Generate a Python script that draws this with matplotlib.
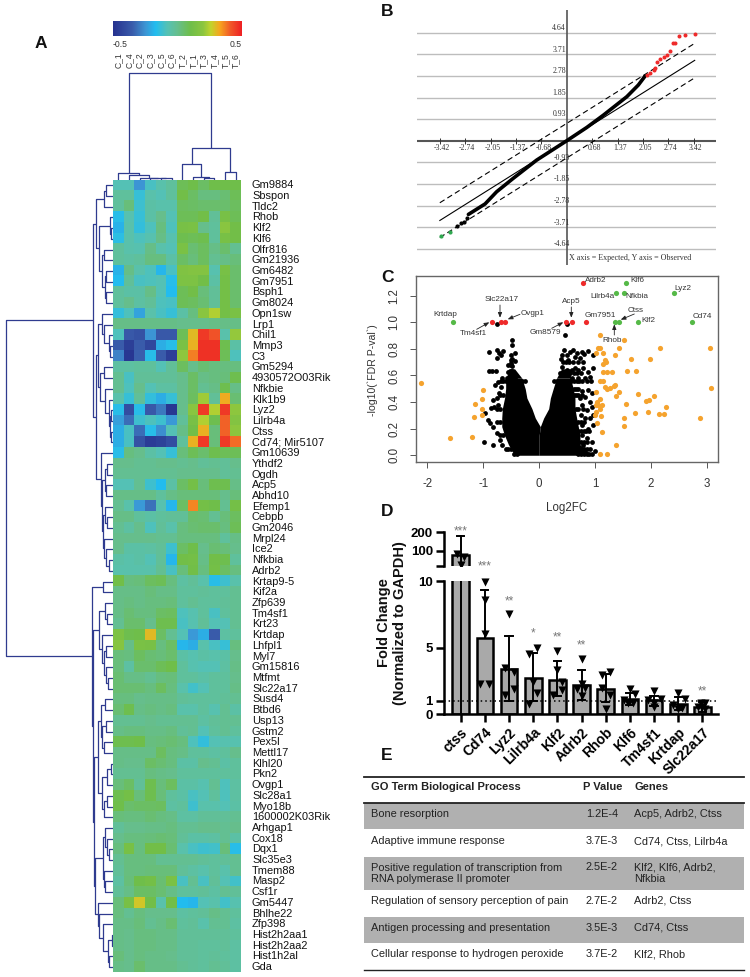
import numpy as np
import matplotlib
matplotlib.use('Agg')
import matplotlib.pyplot as plt
from matplotlib.colors import LinearSegmentedColormap

plt.rcParams['font.family'] = ['Liberation Sans', 'DejaVu Sans']
plt.rcParams['axes.unicode_minus'] = False

W, H = 750, 977

# ---------- Panel A data ----------
col_labels = ['C_1', 'C_4', 'C_2', 'C_3', 'C_5', 'C_6', 'T_2', 'T_1', 'T_3', 'T_4', 'T_5', 'T_6']
genes = ['Gm9884', 'Sbspon', 'Tldc2', 'Rhob', 'Klf2', 'Klf6', 'Olfr816', 'Gm21936', 'Gm6482', 'Gm7951',
         'Bsph1', 'Gm8024', 'Opn1sw', 'Lrp1', 'Chil1', 'Mmp3', 'C3', 'Gm5294', '4930572O03Rik', 'Nfkbie',
         'Klk1b9', 'Lyz2', 'Lilrb4a', 'Ctss', 'Cd74; Mir5107', 'Gm10639', 'Ythdf2', 'Ogdh', 'Acp5', 'Abhd10',
         'Efemp1', 'Cebpb', 'Gm2046', 'Mrpl24', 'Ice2', 'Nfkbia', 'Adrb2', 'Krtap9-5', 'Kif2a', 'Zfp639',
         'Tm4sf1', 'Krt23', 'Krtdap', 'Lhfpl1', 'Myl7', 'Gm15816', 'Mtfmt', 'Slc22a17', 'Susd4', 'Btbd6',
         'Usp13', 'Gstm2', 'Pex5l', 'Mettl17', 'Klhl20', 'Pkn2', 'Ovgp1', 'Slc28a1', 'Myo18b', '1600002K03Rik',
         'Arhgap1', 'Cox18', 'Dqx1', 'Slc35e3', 'Tmem88', 'Masp2', 'Csf1r', 'Gm5447', 'Bhlhe22', 'Zfp398',
         'Hist2h2aa1', 'Hist2h2aa2', 'Hist1h2al', 'Gda']

# expression values x100, same row order as genes
expr = [
    [-8, -8, -25, -10, -6, -3, 8, 10, 6, 10, 10, 10],
    [-3, -3, -13, -6, -8, -3, 11, 6, 2, 2, 4, 8],
    [-3, 3, -12, -5, -6, -6, 7, 6, 5, 5, 5, 7],
    [-16, -7, -13, -5, 0, -8, 8, 8, 11, -2, 13, 8],
    [-19, -6, -14, -9, 2, -9, 13, 14, 0, -3, 19, 11],
    [-15, -6, -9, -7, 1, -7, 9, 8, 9, -3, 13, 11],
    [-3, -6, -7, 1, -6, -8, 14, 4, 7, 1, 5, -1],
    [-3, -4, -3, 2, 2, -5, 6, 3, 7, -1, 1, 3],
    [-19, 1, -6, -9, -18, -10, 16, 17, 17, -7, 13, 5],
    [-17, -2, -10, -9, -8, -16, 15, 15, 11, -5, 12, 5],
    [-3, -5, -5, 1, -8, -17, 8, 11, 3, -2, 12, 5],
    [-3, 0, -4, -2, -9, -10, 8, 7, 4, -2, 12, 5],
    [-14, -9, -22, -6, -10, -13, -5, 2, 19, 24, 12, 14],
    [1, 1, 1, 1, 1, 1, 0, 0, 0, 1, 1, 1],
    [-9, -36, -38, -25, -36, -36, 8, 30, 46, 42, -6, 21],
    [-35, -45, -35, -42, -20, -16, 14, 31, 47, 47, 9, -5],
    [-28, -48, -34, -16, -35, -45, 20, 37, 47, 47, 8, -9],
    [-4, -4, -3, -3, -8, -2, 7, 0, 4, 2, 2, 2],
    [-1, -10, -2, -2, -2, -2, 0, 6, 1, 2, 3, 9],
    [-1, -9, 0, -8, -4, -4, 0, 6, -1, 1, 9, 1],
    [-6, -13, -2, -14, -20, -13, 0, 7, 22, -2, 32, 4],
    [-16, -40, -16, -36, -30, -48, 0, 19, 46, 24, 46, 20],
    [-23, -32, -12, -9, -12, -24, -2, 13, 24, 9, 40, 17],
    [-20, -10, -32, -16, -26, -8, 1, 11, 31, 3, 40, 20],
    [-20, -10, -38, -46, -44, -40, -3, 31, 46, 3, 46, 39],
    [-16, 2, 0, -5, -8, -13, 3, 8, 5, 9, 8, 8],
    [0, 0, -1, -1, 0, 0, -1, 0, -2, -1, -2, 0],
    [-1, -1, -1, -1, -1, -1, 0, 0, 0, 0, -2, -1],
    [-8, -8, -1, -12, -17, -5, 6, 12, 3, 9, 9, 1],
    [1, 1, 1, 1, -3, 1, 3, 3, 3, 3, 0, 3],
    [-1, -6, -24, -31, -7, -18, 6, 36, 12, 10, -1, 12],
    [1, 1, -3, -5, -3, -2, -2, 5, 4, -1, 3, 7],
    [-1, -4, 0, -9, -2, -6, 2, 4, 5, 5, 2, 8],
    [0, 0, 0, 0, -1, -1, 2, 2, 2, 2, -3, 1],
    [0, -5, -5, -4, -2, -12, 6, 10, 0, 4, 3, 0],
    [-5, -6, -5, -8, -2, -18, 11, 12, 1, 11, 9, -3],
    [-6, -6, -6, -6, -1, -10, 3, 11, 2, 12, 6, 2],
    [11, 2, 3, 7, 8, 2, -4, -2, -6, -16, -12, -6],
    [1, 1, 1, 3, 1, 1, -3, -3, -2, -3, -3, -1],
    [1, 2, 1, 2, 2, 3, -3, -1, -3, -3, -2, -1],
    [1, 4, 2, 2, 6, 7, -9, -7, -3, -10, -3, -1],
    [-1, 5, 5, 0, 9, 9, -10, -7, -2, -8, -8, -1],
    [15, 9, 10, 30, 6, -1, -8, -24, -20, -35, -4, -3],
    [18, 1, 14, 13, 2, 6, -18, -20, -6, -10, -13, 2],
    [3, 2, 7, 4, 3, 5, -5, -7, -5, -6, -5, 0],
    [3, -4, 5, 5, 8, 10, -3, -7, -8, -8, -4, 1],
    [4, 1, 1, -1, 2, 3, -3, -3, -5, -3, -3, 0],
    [4, 4, 4, 2, 7, 2, -6, -11, -8, -3, -3, 1],
    [2, 2, 0, 1, 1, 1, -2, -3, -3, -3, -2, -1],
    [4, 9, 1, 2, 1, 2, -6, -6, -3, -7, -1, -5],
    [-1, -1, -1, 0, -1, -1, -1, -1, -4, -2, -1, -1],
    [1, 2, 2, 1, 1, 2, -2, -1, -8, -3, -1, -3],
    [9, 9, 10, 2, 3, 4, 2, -9, -14, -8, -7, -7],
    [1, 1, 1, 1, 7, 2, 1, -3, -3, -4, -3, 0],
    [1, 0, 0, 6, 4, 2, -5, -5, 0, -1, -5, -3],
    [-1, -1, -1, 2, 1, 0, -3, -3, -3, -3, -3, -3],
    [3, 6, -2, 9, 3, 7, -5, -5, -7, -1, -9, -4],
    [9, 12, 3, 9, 3, -3, -5, -10, -8, -3, -9, -4],
    [10, 5, 6, 6, 7, -4, -3, -12, -6, -6, -8, -5],
    [3, 2, 2, 4, 2, 1, -4, -4, -2, -2, -2, -1],
    [-2, 0, 0, 1, 1, 2, -1, -1, 0, 0, -1, 0],
    [0, 2, 2, 3, 4, 3, -2, -5, -5, -4, -1, -5],
    [2, 13, 2, 11, 11, 4, -6, -10, -12, -11, 3, -16],
    [-1, 2, 2, 2, -1, -1, -1, -1, -2, -3, -2, -1],
    [-2, 2, 2, 3, 3, 3, -2, -4, -6, -3, -6, -1],
    [-4, 3, 10, 12, 4, 14, -10, -1, -10, -2, -8, -11],
    [-2, 1, 6, 6, 4, 1, -3, -3, -2, -4, -1, -2],
    [3, 13, 28, 11, -6, 11, -17, -18, -8, -6, -11, -7],
    [2, -1, 2, 0, 0, 0, -4, -3, -2, 1, -1, -3],
    [1, 1, 3, -1, 1, 4, -3, -2, -6, -1, -1, -4],
    [1, 0, 2, 2, 1, 1, -2, -2, -2, -2, -2, -3],
    [1, 0, 2, 2, 1, 1, -2, -2, -3, -3, -2, -4],
    [3, 0, 2, 1, 1, 0, -2, -2, -3, -2, -3, -4],
    [1, 0, 5, 1, 1, 1, -1, -2, -3, -1, -2, -4],
]

# dendrograms: (height, left, right), ints are leaf indices
col_tree = (107,
            (7, 0, (5, 1, (2.5, 2, (2.2, 3, (2, 4, 5))))),
            (32, (16, 6, (3.5, 7, (2, 8, 9))), (8, 10, 11)))

r_upper1 = (17.5, (9, (7, 0, 1), 2),
            (14, (3.5, 3, (2, 4, 5)), (11, (9, 6, 7), (8, (7, 8, 9), (7, 10, 11)))))
r_upper2 = (11, 12, (9, 13, (4, 14, (3, 15, 16))))
r_upper3 = (13, (8.7, 17, 18), (8, 19, (3.8, 20, (3, (2, 21, 22), (2, 23, 24)))))
r_mid = (12.5, 25, (11.5, (8, (6, 26, 27), (7, 28, 29)),
                    (10.5, (8, 30, (6, 31, 32)), (9, 33, (7, 34, (4, 35, 36))))))
r_top = (19.7, r_upper1, (17.5, (15.5, r_upper2, r_upper3), r_mid))
r_g1 = (14, (8, 39, (6, 40, 41)), (11, 42, (9, (7, 43, 44), (7, 45, (5, 46, 47)))))
r_g2 = (12, (8, 48, 49), (11, (7, 50, 51), (9, 52, 53)))
r_g3 = (11, (6, (2, 54, 55), 56), (9, (6, 57, 58), 59))
r_g4 = (10, (8, 60, (6, 61, (4, 62, 63))), (9, 64, (8, 65, 66)))
r_g5 = (15, 67, (14, 68, (10, 69, (5, (1.5, 70, 71), (4, 72, 73)))))
r_lower = (21, (10, 37, 38), (20, r_g1, (19.5, (15, r_g2, r_g3), (18, r_g4, r_g5))))
row_tree = (107, r_top, r_lower)

# ---------- Panel B data ----------
qq_ticks_x = [-3.42, -2.74, -2.05, -1.37, -0.68, 0.68, 1.37, 2.05, 2.74, 3.42]
qq_ticks_y = [-4.64, -3.71, -2.78, -1.85, -0.93, 0.93, 1.85, 2.78, 3.71, 4.64]
qq_line_x = [-3.42, 3.45]
qq_line_y = [-3.42, 3.45]
qq_upper_y = [-2.66, 4.18]
qq_lower_y = [-4.15, 2.70]
qq_black_x = [-2.65, -2.43, -2.2, -1.89, -1.44, -0.81, 0, 0.54, 0.99, 1.62, 1.93, 2.11]
qq_black_y = [-3.16, -2.94, -2.71, -2.19, -1.61, -0.83, 0, 0.57, 1.1, 1.89, 2.39, 2.77]
qq_sparse_x = [-2.97, -2.86, -2.77, -2.70]
qq_sparse_y = [-3.66, -3.51, -3.47, -3.33]
qq_green_x = [-3.40, -3.14]
qq_green_y = [-4.09, -3.90]
qq_red_x = [2.16, 2.25, 2.34, 2.39, 2.44, 2.52, 2.61, 2.70, 2.79, 2.86, 2.92, 3.03, 3.18, 3.47]
qq_red_y = [2.83, 2.91, 3.03, 3.13, 3.39, 3.49, 3.60, 3.67, 3.86, 4.21, 4.21, 4.49, 4.53, 4.60]

# ---------- Panel C data ----------
# outline of the dense black mass, read at these -log10 levels
mass_y = [0.0, 0.08, 0.15, 0.215, 0.28, 0.35, 0.43, 0.5, 0.58]
mass_left_out = [-0.44, -0.55, -0.62, -0.67, -0.67, -0.66, -0.62, -0.6, -0.6]
mass_left_in = [0.0, 0.0, 0.0, 0.02, -0.07, -0.13, -0.22, -0.25, -0.31]
mass_right_in = [0.0, 0.0, 0.0, 0.02, 0.08, 0.17, 0.2, 0.25, 0.31]
mass_right_out = [0.94, 0.73, 0.73, 0.7, 0.67, 0.64, 0.64, 0.61, 0.56]
tip_y = [0.58, 0.65]
tip_left_out = [-0.6, -0.52]
tip_left_in = [-0.31, -0.44]
tip_right_in = [0.31, 0.4]
tip_right_out = [0.56, 0.56]

black_left_x = [-0.98, -0.82, -0.97, -0.91, -0.88, -0.82, -0.76, -0.7, -0.66, -0.86, -0.8, -0.73, -0.82, -0.76, -0.72,
                -0.79, -0.73, -0.68, -0.9, -0.84, -0.78, -0.56, -0.52, -0.48, -0.66, -0.58, -0.5, -0.43, -0.49, -0.49,
                -0.9, -0.76, -0.72, -0.76, -0.64, -0.68, -0.51, -0.43, -0.48, -0.43, -0.5, -0.48, -0.76]
black_left_y = [0.1, 0.08, 0.316, 0.266, 0.24, 0.215, 0.165, 0.115, 0.08, 0.353, 0.366, 0.378, 0.416, 0.43, 0.466,
                0.53, 0.55, 0.51, 0.634, 0.634, 0.634, 0.625, 0.634, 0.634, 0.58, 0.58, 0.58, 0.58, 0.87, 0.83,
                0.775, 0.79, 0.767, 0.73, 0.785, 0.755, 0.755, 0.767, 0.724, 0.71, 0.69, 0.674, 0.985]
black_right_x = [0.45, 0.41, 0.39, 0.49, 0.55, 0.61, 0.67, 0.73, 0.81, 0.88, 0.97, 0.76, 0.64, 0.52,
                 0.41, 0.49, 0.58, 0.64, 0.7, 0.79, 0.88, 0.97, 0.52, 0.58, 0.7, 0.82, 0.91,
                 0.7, 0.76, 0.88, 0.94, 0.73, 0.82, 0.91, 0.76, 0.85, 0.94, 0.75, 0.82, 0.91, 0.97,
                 0.76, 0.88, 0.97, 0.76, 0.85, 0.94, 0.79, 0.91, 0.99, 0.7, 0.5, 0.46]
black_right_y = [0.79, 0.755, 0.724, 0.755, 0.775, 0.79, 0.767, 0.734, 0.76, 0.785, 0.755, 0.78, 0.742, 0.717,
                 0.66, 0.64, 0.64, 0.654, 0.64, 0.654, 0.624, 0.654, 0.624, 0.58, 0.584, 0.58, 0.59,
                 0.5, 0.48, 0.49, 0.466, 0.43, 0.44, 0.4, 0.38, 0.34, 0.366, 0.3, 0.28, 0.28, 0.3,
                 0.23, 0.2, 0.23, 0.15, 0.13, 0.1, 0.08, 0.05, 0.03, 0.1, 0.985, 0.905]
# dots that thicken the rim of the mass
rim_x = [-0.68, -0.64, -0.6, -0.55, -0.5, -0.45, -0.4, -0.35, -0.3, -0.25,
         0.27, 0.32, 0.37, 0.42, 0.47, 0.52, 0.57, 0.62, 0.67, 0.72, 0.77, 0.85, 0.92,
         0.62, 0.66, 0.62, 0.66, 0.7, 0.76, 0.66, 0.7, 0.78, 0.7, 0.74, 0.8,
         0.7, 0.74, 0.8, 0.84, 0.9, 0.75, 0.8, 0.85, 0.7, 0.75, 0.8, 0.85,
         0.7, 0.75, 0.8, 0.85, 0.9, 0.95,
         -0.65, -0.7, -0.7, -0.75, -0.7, -0.75, -0.65, -0.7, -0.5, -0.55, -0.6, -0.45, -0.4,
         0.38, 0.44, 0.5, 0.56, 0.62, 0.68, 0.74, 0.42, 0.48, 0.54, 0.6, 0.7, 0.78,
         -0.55, -0.5, -0.5]
rim_y = [0.56, 0.56, 0.56, 0.56, 0.56, 0.56, 0.56, 0.56, 0.56, 0.56,
         0.56, 0.56, 0.56, 0.56, 0.56, 0.56, 0.56, 0.56, 0.56, 0.56, 0.56, 0.56, 0.56,
         0.5, 0.5, 0.45, 0.45, 0.45, 0.45, 0.35, 0.35, 0.35, 0.25, 0.25, 0.25,
         0.18, 0.18, 0.18, 0.18, 0.18, 0.1, 0.1, 0.1, 0.05, 0.05, 0.05, 0.05,
         0.01, 0.01, 0.01, 0.01, 0.01, 0.01,
         0.45, 0.45, 0.35, 0.35, 0.25, 0.25, 0.15, 0.15, 0.05, 0.05, 0.05, 0.01, 0.01,
         0.62, 0.62, 0.62, 0.62, 0.62, 0.62, 0.62, 0.7, 0.7, 0.7, 0.7, 0.7, 0.7,
         0.68, 0.68, 0.72]
orange_x = [-2.12, -1.6, -1.2, -1.16, -1.14, -1.03, -1.01, -1.02, -1.02, 1.01, 1.055, 1.09, 1.09, 1.14, 1.17,
            1.19, 1.15, 1.21, 1.15, 1.3, 1.09, 1.15, 1.18, 1.22, 1.26, 1.33, 1.36, 1.43, 1.38, 1.01, 1.03, 1.01,
            1.09, 1.06, 1.12, 1.02, 1.09, 1.0, 1.1, 1.03, 1.13, 1.08, 1.22, 1.37, 1.51, 1.43, 1.35, 1.64, 1.99,
            2.16, 3.05, 1.57, 1.74, 1.77, 1.56, 1.91, 1.97, 2.06, 1.72, 1.95, 2.14, 2.27, 2.24, 2.87, 3.07, 1.52, 1.51]
orange_y = [0.54, 0.13, 0.135, 0.29, 0.386, 0.426, 0.489, 0.346, 0.303, 0.772, 0.805, 0.81, 0.902, 0.772, 0.717,
            0.704, 0.687, 0.629, 0.624, 0.629, 0.561, 0.561, 0.516, 0.499, 0.509, 0.524, 0.529, 0.476, 0.446, 0.479,
            0.404, 0.378, 0.421, 0.378, 0.378, 0.328, 0.348, 0.303, 0.298, 0.241, 0.173, 0.013, 0.01, 0.08, 0.867,
            0.805, 0.754, 0.724, 0.727, 0.805, 0.805, 0.632, 0.632, 0.461, 0.386, 0.409, 0.416, 0.446, 0.316, 0.326,
            0.308, 0.363, 0.308, 0.281, 0.509, 0.278, 0.223]
red_x = [-0.84, -0.69, -0.62, 0.48, 0.59, 0.83, 0.78]
red_y = [1.005, 1.005, 1.005, 1.005, 1.005, 1.005, 1.296]
green_x = [-1.54, 1.36, 1.43, 1.76, 2.73, 1.56, 1.37, 1.51, 2.42]
green_y = [1.005, 1.005, 1.005, 1.005, 1.005, 1.296, 1.22, 1.22, 1.22]

volcano_labels = ['Adrb2', 'Klf6', 'Lyz2', 'Lilrb4a', 'Nfkbia', 'Slc22a17', 'Acp5', 'Ovgp1', 'Ctss', 'Gm7951',
                  'Krtdap', 'Cd74', 'Klf2', 'Gm8579', 'Tm4sf1', 'Rhob']
volcano_label_px = [595.7, 637, 683.3, 602.3, 637, 501.7, 571.3, 532.3, 635.3, 600, 445, 702.7, 648.7, 545.7, 473, 611.7]
volcano_label_py = [281, 281, 288.3, 296.7, 296.7, 299.3, 301.3, 313.3, 310, 315.3, 314.7, 316.7, 320, 332, 333.7, 340]

# ---------- Panel D data ----------
fc_genes = ['ctss', 'Cd74', 'Lyz2', 'Lilrb4a', 'Klf2', 'Adrb2', 'Rhob', 'Klf6', 'Tm4sf1', 'Krtdap', 'Slc22a17']
fc_mean = [76, 5.75, 3.4, 2.7, 2.6, 2.2, 1.9, 1.15, 1.07, 0.8, 0.52]
fc_err_top = [180, 9.3, 5.9, 4.6, 4.0, 3.3, 3.0, 1.6, 1.4, 1.3, 0.95]
fc_err_bot = [0, 5.75, 1.0, 1.0, 1.4, 1.1, 0.9, 0.7, 0.6, 0.3, 0.2]
fc_points = [[82, 68, 22],
             [9.95, 8.6, 6.0, 2.3, 2.3],
             [7.5, 3.45, 3.2, 1.45, 1.9],
             [4.95, 4.5, 2.45, 1.6, 0.75],
             [4.75, 3.3, 2.45, 1.8, 1.45],
             [4.15, 2.3, 1.95, 1.9, 1.4],
             [3.15, 2.95, 2.0, 1.45, 0.4],
             [1.9, 1.5, 1.07, 0.87, 0.87],
             [1.75, 1.12, 1.07, 0.82, 0.52],
             [1.6, 1.12, 0.7, 0.4, 0.45],
             [0.87, 0.82, 0.52, 0.57, 0.4]]
fc_jitter = [[-0.14, 0.14, 0],
             [0, 0, 0, -0.19, 0.19],
             [0, -0.17, 0.2, -0.17, 0.2],
             [0.17, -0.17, 0, 0.17, -0.17],
             [0, 0, 0.2, 0.18, -0.17],
             [0, 0, 0.15, -0.17, 0],
             [0.17, -0.17, -0.17, 0.17, 0],
             [0, 0.23, -0.25, -0.07, 0.14],
             [0, 0.28, -0.23, 0, 0],
             [0, 0.28, -0.23, 0, 0.14],
             [-0.07, 0.11, -0.17, 0, 0.11]]
fc_stars = ['***', '***', '**', '*', '**', '**', '', '', '', '', '**']
fc_star_py = [531.5, 566, 601, 633, 637, 645.5, 0, 0, 0, 0, 691.5]

# ---------- Panel E data ----------
go_terms = ['Bone resorption', 'Adaptive immune response',
            'Positive regulation of transcription from\nRNA polymerase II promoter',
            'Regulation of sensory perception of pain', 'Antigen processing and presentation',
            'Cellular response to hydrogen peroxide']
go_pvals = ['1.2E-4', '3.7E-3', '2.5E-2', '2.7E-2', '3.5E-3', '3.7E-2']
go_genes = ['Acp5, Adrb2, Ctss', 'Cd74, Ctss, Lilrb4a', 'Klf2, Klf6, Adrb2,\nNfkbia', 'Adrb2, Ctss', 'Cd74, Ctss',
            'Klf2, Rhob']


def px_ax(x0, y0, x1, y1):
    # axes placed by pixel box of the reference
    return fig.add_axes([x0 / W, 1 - y1 / H, (x1 - x0) / W, (y1 - y0) / H])


def draw_tree(node, ax, vertical):
    # returns leaf position and height, draws the brackets on the way
    if isinstance(node, int):
        return node, 0
    h, a, b = node
    pa, ha = draw_tree(a, ax, vertical)
    pb, hb = draw_tree(b, ax, vertical)
    if vertical:
        ax.plot([pa, pa, pb, pb], [ha, h, h, hb], color='#2f3b8f', lw=0.9, solid_capstyle='butt')
    else:
        ax.plot([ha, h, h, hb], [pa, pa, pb, pb], color='#2f3b8f', lw=0.9, solid_capstyle='butt')
    return (pa + pb) / 2, h


fig = plt.figure(figsize=(W / 100, H / 100), dpi=100)

# page layer in pixel coordinates for all free text, on top of the panels
pg = fig.add_axes([0, 0, 1, 1])
pg.set_xlim(0, W)
pg.set_ylim(H, 0)
pg.axis('off')
pg.set_zorder(10)

# ---------- A: heatmap ----------
cmap = LinearSegmentedColormap.from_list('heat', [
    (0.0, '#26328f'), (0.15, '#3a5cab'), (0.25, '#3d95d4'), (0.33, '#22bdf0'), (0.42, '#55c2b5'),
    (0.5, '#66bf8e'), (0.6, '#6fbe4a'), (0.7, '#8cc63f'), (0.76, '#c2d42d'), (0.83, '#f7a51f'),
    (0.91, '#f15a29'), (1.0, '#ee2024')])

ax_hm = px_ax(113, 180, 241, 972.5)
ax_hm.imshow(np.array(expr) / 100, cmap=cmap, vmin=-0.5, vmax=0.5, aspect='auto', interpolation='nearest')
ax_hm.axis('off')

ax_cb = px_ax(113, 20.7, 241, 36)
ax_cb.imshow(np.linspace(-0.5, 0.5, 256).reshape(1, -1), cmap=cmap, aspect='auto')
ax_cb.axis('off')
pg.text(120, 44.5, '-0.5', fontsize=6.2, ha='center', va='center', color='#333333')
pg.text(236, 44.5, '0.5', fontsize=6.2, ha='center', va='center', color='#333333')

cell_w = 128 / 12
for i, c in enumerate(col_labels):
    pg.text(113 + cell_w * (i + 0.5), 68, c, fontsize=6.2, rotation=90, ha='center', va='bottom', color='#333333')

cell_h = 792.5 / 74
for i, g in enumerate(genes):
    pg.text(252, 180 + cell_h * (i + 0.5), g, fontsize=7.9, ha='left', va='center', color='#111111')

ax_top = px_ax(113, 70, 241, 180)
ax_top.set_xlim(-0.5, 11.5)
ax_top.set_ylim(0, 110)
ax_top.axis('off')
draw_tree(col_tree, ax_top, True)

ax_left = px_ax(3, 180, 113, 972.5)
ax_left.set_xlim(110, 0)
ax_left.set_ylim(73.5, -0.5)
ax_left.axis('off')
draw_tree(row_tree, ax_left, False)

# ---------- B: QQ plot ----------
ax_b = px_ax(417, 10, 716, 265)
ax_b.set_xlim(-4.035, 4.024)
ax_b.set_ylim(-5.33, 5.61)
ax_b.axis('off')
for t in qq_ticks_y:
    ax_b.axhline(t, color='#bdbdbd', lw=1.0, zorder=1)
ax_b.axhline(0, color='#555555', lw=1.5, zorder=1)
ax_b.axvline(0, color='#555555', lw=1.2, zorder=1)
ax_b.plot(qq_ticks_x, [0] * len(qq_ticks_x), '|', color='#333333', ms=5, mew=0.7, zorder=2)
for t in qq_ticks_x:
    ax_b.text(t + 0.06, -0.3, f'{t:.2f}', fontsize=5.6, family='Liberation Serif', ha='center', va='center', color='#333333')
for t in qq_ticks_y:
    off = 0.0 if t > 0 else 0.1
    ax_b.text(-0.02 + off, t + 0.2, f'{t:.2f}', fontsize=5.6, family='Liberation Serif', ha='right', va='center', color='#333333')
ax_b.plot(qq_line_x, qq_line_y, color='black', lw=0.8, zorder=3)
ax_b.plot(qq_line_x, qq_upper_y, color='black', lw=0.8, ls=(0, (5, 3)), zorder=3)
ax_b.plot(qq_line_x, qq_lower_y, color='black', lw=0.8, ls=(0, (5, 3)), zorder=3)
ax_b.plot(qq_black_x, qq_black_y, color='black', lw=2.6, solid_capstyle='round', zorder=4)
ax_b.scatter(qq_sparse_x, qq_sparse_y, s=4, color='black', zorder=4)
ax_b.scatter(qq_green_x, qq_green_y, s=4, color='#2fa84f', zorder=4)
ax_b.scatter(qq_red_x, qq_red_y, s=3.5, color='#ee2a2a', zorder=4)
pg.text(630, 257.7, 'X axis = Expected, Y axis = Observed', fontsize=5.8, family='Liberation Serif',
        ha='center', va='center', color='#333333')

# ---------- C: volcano ----------
ax_c = px_ax(415.7, 276, 718, 462.3)
ax_c.fill_betweenx(mass_y, mass_left_out, mass_left_in, color='black', lw=0, zorder=2)
ax_c.fill_betweenx(mass_y, mass_right_in, mass_right_out, color='black', lw=0, zorder=2)
ax_c.fill_betweenx(tip_y, tip_left_out, tip_left_in, color='black', lw=0, zorder=2)
ax_c.fill_betweenx(tip_y, tip_right_in, tip_right_out, color='black', lw=0, zorder=2)
ax_c.scatter(black_left_x + black_right_x + rim_x, black_left_y + black_right_y + rim_y, s=12, color='black',
             lw=0, zorder=3)
ax_c.scatter(orange_x, orange_y, s=14, color='#f5a32e', lw=0, zorder=4)
ax_c.scatter(red_x, red_y, s=14, color='#ee2a2a', lw=0, zorder=4)
ax_c.scatter(green_x, green_y, s=14, color='#55b947', lw=0, zorder=4)
ax_c.set_xlim(-2.21, 3.2)
ax_c.set_ylim(-0.053, 1.348)
ax_c.set_xticks([-2, -1, 0, 1, 2, 3])
ax_c.set_yticks([0, 0.2, 0.4, 0.6, 0.8, 1.0, 1.2])
ax_c.set_yticklabels(['0.0', '0.2', '0.4', '0.6', '0.8', '1.0', '1.2'], rotation=90, va='center')
ax_c.tick_params(labelsize=8.3, length=4, width=0.7, color='#555555', labelcolor='#333333', pad=7)
for s in ax_c.spines.values():
    s.set_color('#666666')
    s.set_linewidth(1.0)
pg.text(567, 508, 'Log2FC', fontsize=8.3, ha='center', va='center', color='#333333')
pg.text(372.5, 370, "-log10(`FDR P-val`)", fontsize=7.6, rotation=90, ha='center', va='center', color='#333333')

for name, px, py in zip(volcano_labels, volcano_label_px, volcano_label_py):
    pg.text(px, py, name, fontsize=5.9, ha='center', va='center', color='#333333')

arrow_from = [(500, 305), (571.3, 307), (520, 314.3), (476.7, 329.3), (551.7, 328.3), (634.3, 314), (614.3, 335)]
arrow_to = [(500, 317.7), (571.3, 317.7), (507.7, 319.3), (489.3, 322.3), (563.3, 322.3), (620.7, 319.7), (614.3, 324.3)]
for a, b in zip(arrow_from, arrow_to):
    pg.annotate('', xy=b, xytext=a, arrowprops=dict(arrowstyle='-|>,head_width=0.12,head_length=0.3', lw=0.6,
                                                    color='#222222', shrinkA=0, shrinkB=0))

# ---------- D: fold change bars (broken axis) ----------
xs = np.arange(len(fc_genes))
ax_low = px_ax(444, 581, 718.3, 714.3)
ax_up = px_ax(444, 532.3, 718.3, 565.7)

# lower part holds all genes, ctss runs off its top
ax_low.bar(xs, fc_mean, width=0.69, color='#a9a9a9', edgecolor='black', lw=1.8, zorder=2)
for i in range(len(xs)):
    ax_low.plot([xs[i], xs[i]], [fc_err_bot[i], fc_err_top[i]], color='black', lw=1.4, zorder=3)
    if i > 0:
        ax_low.plot([xs[i] - 0.15, xs[i] + 0.15], [fc_err_top[i]] * 2, color='black', lw=1.4, zorder=3)
    if 0 < i and fc_err_bot[i] < fc_mean[i]:
        ax_low.plot([xs[i] - 0.15, xs[i] + 0.15], [fc_err_bot[i]] * 2, color='black', lw=1.4, zorder=3)
    if i > 0:
        ax_low.scatter(xs[i] + np.array(fc_jitter[i]), fc_points[i], marker='v', s=34, color='black', lw=0,
                       zorder=4, clip_on=False)

# upper part is only ctss
ax_up.bar(xs[:1], fc_mean[:1], width=0.69, color='#a9a9a9', edgecolor='black', lw=1.8, zorder=2)
ax_up.plot([xs[0], xs[0]], [fc_err_bot[0], fc_err_top[0]], color='black', lw=1.4, zorder=3)
ax_up.plot([xs[0] - 0.15, xs[0] + 0.15], [fc_err_top[0]] * 2, color='black', lw=1.4, zorder=3)
ax_up.scatter(xs[0] + np.array(fc_jitter[0]), fc_points[0], marker='v', s=34, color='black', lw=0, zorder=4)

for ax in (ax_low, ax_up):
    ax.set_xlim(-0.69, 10.66)
    ax.patch.set_alpha(0)
    for s in ['top', 'right']:
        ax.spines[s].set_visible(False)
    ax.spines['left'].set_linewidth(1.8)
    ax.tick_params(axis='y', length=6, width=1.8, labelsize=9.5, pad=2)

ax_low.set_ylim(0, 10)
ax_low.set_yticks([0, 1, 5, 10])
ax_low.set_yticklabels(['0', '1', '5', '10'], fontweight='bold')
ax_low.axhline(1, color='black', lw=1.1, ls=(0, (1, 2)), zorder=5)
ax_low.spines['bottom'].set_linewidth(1.8)
ax_low.set_xticks(xs)
ax_low.set_xticklabels(fc_genes, rotation=45, ha='right', rotation_mode='anchor', fontsize=10, fontweight='bold')
ax_low.tick_params(axis='x', length=6, width=1.8, pad=2)

ax_up.set_ylim(18, 200)
ax_up.set_yticks([18, 100, 200])
ax_up.set_yticklabels(['', '100', '200'], fontweight='bold')
ax_up.spines['bottom'].set_visible(False)
ax_up.set_xticks([])

pg.text(392, 623, 'Fold Change\n(Normalized to GAPDH)', rotation=90, fontsize=10.5, fontweight='bold',
        ha='center', va='center', linespacing=1.2, color='#111111')

bar_px = 444 + (np.arange(11) + 0.69) * (274.3 / 11.35)
for i in range(len(fc_stars)):
    if fc_stars[i]:
        pg.text(bar_px[i], fc_star_py[i], fc_stars[i], fontsize=8.5, ha='center', va='center', color='#777777')

# ---------- E: table ----------
go_row_y = [814, 841, 873.5, 900.7, 927.7, 954.3]
pg.plot([364, 744], [776.7, 776.7], color='#222222', lw=1.3)
pg.plot([364, 744], [803.3, 803.3], color='#222222', lw=1.3)
pg.plot([364, 744], [970, 970], color='#222222', lw=1.0)
for y0, y1 in [(803.3, 829.3), (856.7, 890), (916.7, 943.3)]:
    pg.fill_between([364, 744], y0, y1, color='#b0b0b0', lw=0, zorder=0)
pg.text(370.7, 787, 'GO Term Biological Process', fontsize=8.0, fontweight='bold', va='center', color='#222222')
pg.text(582.7, 787, 'P Value', fontsize=8.0, fontweight='bold', va='center', color='#222222')
pg.text(634.3, 787, 'Genes', fontsize=8.0, fontweight='bold', va='center', color='#222222')
for y, term, p, g in zip(go_row_y, go_terms, go_pvals, go_genes):
    pg.text(370.7, y, term, fontsize=7.9, va='center', color='#222222', linespacing=1.2)
    py = y - 6.2 if '\n' in term else y
    pg.text(586, py, p, fontsize=7.9, va='center', color='#222222')
    pg.text(634.3, y, g, fontsize=7.9, va='center', color='#222222', linespacing=1.2)

# panel letters
for letter, x, y in [('A', 41, 43), ('B', 387, 11), ('C', 387, 278), ('D', 387, 512), ('E', 387, 755)]:
    pg.text(x, y, letter, fontsize=12.5, fontweight='bold', ha='center', va='center', color='#111111')

fig.savefig('out.png', dpi=100)
